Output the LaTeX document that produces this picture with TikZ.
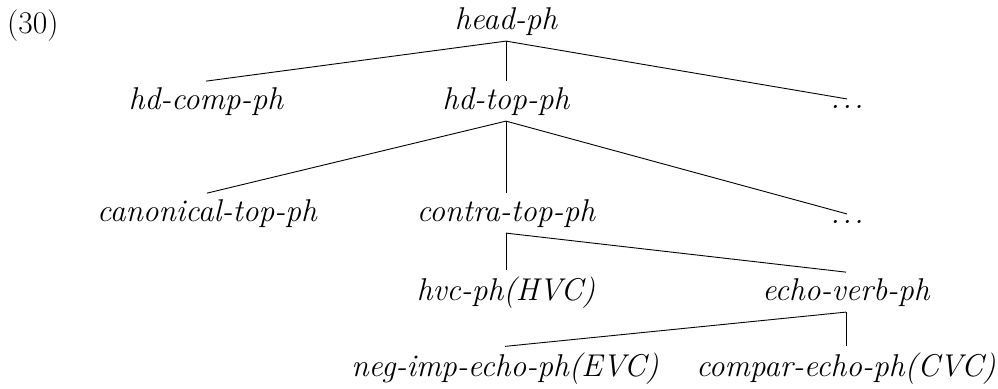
\documentclass[tikz,border=0pt]{standalone}
\usepackage{fontspec}
\newcommand{\threedots}{.\kern2.5pt.\kern2.5pt.}
\begin{document}
\begin{tikzpicture}[x=1pt,y=-1pt,
  cat/.style={font=\fontsize{31.5}{38}\selectfont\itshape, inner sep=6pt, outer sep=0pt, anchor=base},
  exnum/.style={font=\fontsize{31.5}{38}\selectfont, inner sep=0pt, anchor=base west},
  branch/.style={line width=0.9pt}]
\useasboundingbox (0,0) rectangle (998,388);

% example number
\node[exnum] (ex) at (7,33) {(30)};

% type hierarchy
\node[cat] (head)   at (506,29)  {head-ph};
\node[cat] (hdcomp) at (206,109) {hd-comp-ph};
\node[cat] (hdtop)  at (506,109) {hd-top-ph};
\node[cat] (dotsa)  at (847,108) {\threedots};
\node[cat] (canon)  at (207,221) {canonical-top-ph};
\node[cat] (contra) at (506,221) {contra-top-ph};
\node[cat] (dotsb)  at (847,223) {\threedots};
\node[cat] (hvc)    at (506,300) {hvc-ph(HVC)};
\node[cat] (echo)   at (846,300) {echo-verb-ph};
\node[cat] (negimp) at (505,376) {neg-imp-echo-ph(EVC)};
\node[cat] (compar) at (846,376) {compar-echo-ph(CVC)};

% branches
\draw[branch] (head.south) -- (hdcomp.north);
\draw[branch] (head.south) -- (hdtop.north);
\draw[branch] (head.south) -- (dotsa.north);
\draw[branch] (hdtop.south) -- (canon.north);
\draw[branch] (hdtop.south) -- (contra.north);
\draw[branch] (hdtop.south) -- (dotsb.north);
\draw[branch] (contra.south) -- (hvc.north);
\draw[branch] (contra.south) -- (echo.north);
\draw[branch] (echo.south) -- (negimp.north);
\draw[branch] (echo.south) -- (compar.north);
\end{tikzpicture}
\end{document}
